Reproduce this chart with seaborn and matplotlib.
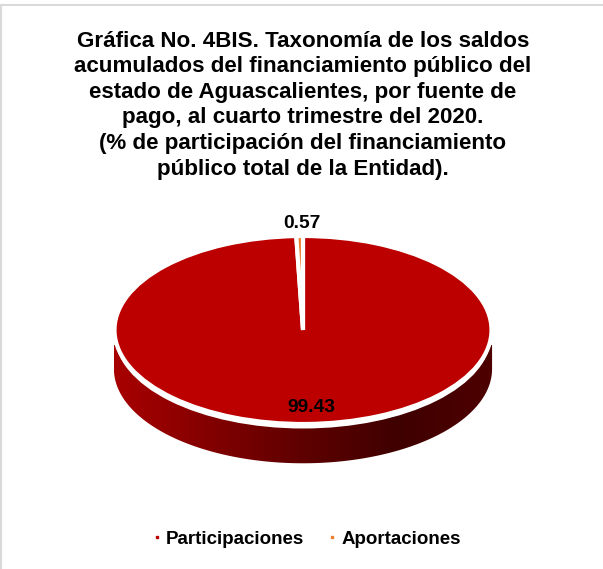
import matplotlib
matplotlib.use("Agg")
import matplotlib.pyplot as plt
import seaborn as sns
import numpy as np
from matplotlib.colors import LinearSegmentedColormap
from matplotlib.lines import Line2D
from matplotlib.patches import Ellipse, Polygon

sns.set_theme(style="white")
plt.rcParams['font.family'] = ['Liberation Sans', 'DejaVu Sans']

# Data
categories = ['Participaciones', 'Aportaciones']
values = [99.43, 0.57]
colors = ['#BC0000', '#ED7D31']
title_lines = [
    'Gráfica No. 4BIS. Taxonomía de los saldos',
    'acumulados del financiamiento público del',
    'estado de Aguascalientes, por fuente de',
    'pago, al cuarto trimestre del 2020.',
    '(% de participación del financiamiento',
    'público total de la Entidad).',
]

W, H = 603, 569
CX, CY, RX, RY = 303, 330, 188.5, 94


# pixel position of the image -> data units of the flattened pie
def to_data(px, py):
    return (px - CX) / RX, (CY - py) / RY


fig = plt.figure(figsize=(W / 100, H / 100), dpi=100, facecolor='white')
ax = fig.add_axes([0, 0, 1, 1])

# Flat pie, squeezed into an ellipse by the axes limits
wedges, _ = ax.pie(values, colors=colors, startangle=90, counterclock=False, radius=1,
                   wedgeprops={'edgecolor': 'white', 'linewidth': 3, 'zorder': 4})

# Side wall of the disc with a horizontal gradient
depth = 39 / RY
wall = 1.003
wall_top = -15 / RY
t = np.linspace(np.pi, 2 * np.pi, 200)
outline = np.r_[np.c_[wall * np.cos(t), wall * np.sin(t) - depth],
                np.c_[wall * np.cos(t[::-1]), np.full_like(t, wall_top)]]
clip = Polygon(outline, closed=True, transform=ax.transData, facecolor='none', edgecolor='none')
ax.add_patch(clip)
cmap = LinearSegmentedColormap.from_list('side', [(0, '#A80000'), (0.45, '#650000'),
                                                  (0.75, '#3F0000'), (1, '#4E0000')])
grad = ax.imshow(np.linspace(0, 1, 256)[None, :], cmap=cmap, aspect='auto', zorder=1,
                 extent=(-wall, wall, -1 - depth - 0.05, 0.05))
grad.set_clip_path(clip)
ax.add_patch(Ellipse((0, -4.5 / RY), 2.0, 2.0, facecolor='white', edgecolor='none', zorder=2))
ax.add_patch(Ellipse((0, 0), 2.0, 2.0, facecolor='white', edgecolor='none', zorder=3))

ax.set_aspect('auto')
x0, y0 = to_data(0, H)
x1, y1 = to_data(W, 0)
ax.set_xlim(x0, x1)
ax.set_ylim(y0, y1)
ax.axis('off')

# Data labels
for val, (px, py) in zip(values, [(311, 408), (302, 224)]):
    lx, ly = to_data(px, py)
    ax.text(lx, ly, f'{val:.2f}', ha='center', va='center', fontsize=13.8,
            fontweight='bold', color='black', zorder=6)

# Title, one text per line so the spacing follows the reference
title_base = [47, 72, 98, 123, 149, 175]
for line, py in zip(title_lines, title_base):
    fig.text(303 / W, 1 - py / H, line, ha='center', va='baseline', fontsize=16.1,
             fontweight='bold', color='black')

# Legend with tiny square keys
handles = [Line2D([], [], linestyle='none', marker='s', markersize=2, color=c) for c in colors]
fig.legend(handles, categories, loc='center', bbox_to_anchor=(304 / W, 1 - 539 / H), ncol=2,
           frameon=False, handletextpad=0.0, columnspacing=0.96, handlelength=1.0,
           labelcolor='black', prop={'size': 13.5, 'weight': 'bold'})

# Chart frame, only top and left show in the crop
for xs, ys in [((0, 1), (1 - 5 / H, 1 - 5 / H)), ((1 / W, 1 / W), (0, 1 - 5 / H))]:
    fig.add_artist(Line2D(xs, ys, color='#D9D9D9', linewidth=1.5))

fig.savefig('out.png', dpi=100)
